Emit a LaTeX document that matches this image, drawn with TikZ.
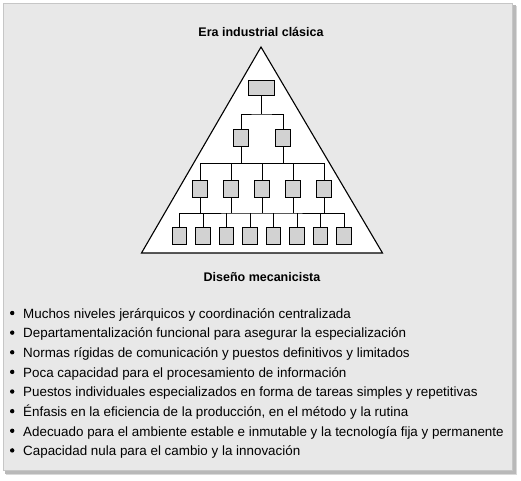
\documentclass[tikz,border=0pt]{standalone}
\usepackage{fontspec}
\setmainfont{Liberation Sans}

\begin{document}
\begin{tikzpicture}[x=1pt,y=1pt]
    \tikzstyle{every node}+=[inner sep=0pt]
    \tikzstyle{box}=[draw=black, fill=gray!35, line width=0.9pt, minimum width=14.5pt, minimum height=17.5pt]
    \tikzstyle{link}=[line width=0.9pt]
    \tikzstyle{heading}=[font=\fontsize{12.5}{15}\selectfont\bfseries]
    \tikzstyle{itemtext}=[anchor=base west, font=\fontsize{13.4}{16}\selectfont]
    \useasboundingbox (0,0) rectangle (521,-480);
    % frame and its shadow
    \fill [gray!30] (6,-6) rectangle (517,-475);
    \fill [gray!55] (5,-5) rectangle (515.5,-473.5);
    \draw [gray!45, fill=gray!18] (3,-3) rectangle (512,-470);
    % headings
    \node [heading] (era) at (261,-31.5) {Era industrial clásica};
    \node [heading] (diseno) at (262,-277) {Diseño mecanicista};
    % pyramid
    \draw [black, line width=1.1pt, fill=white] (261,-47) -- (382.5,-253) -- (141.5,-253) -- cycle;
    \node [box, minimum width=26pt, minimum height=15pt] (top) at (261,-88) {};
    \node [box] (mid1) at (241,-138) {};
    \node [box] (mid2) at (283,-138) {};
    \foreach \i/\x in {1/200,2/231,3/262,4/293,5/324}
        \node [box] (sub\i) at (\x,-189) {};
    \foreach \i in {1,...,8}
        \node [box] (unit\i) at ({179.5+23.5*(\i-1)},-236) {};
    % connectors
    \coordinate (busA) at (261,-114);
    \coordinate (busB) at (262,-163.5);
    \coordinate (busC) at (261.75,-213);
    \draw [link] (top) -- (busA);
    \draw [link] (mid1) |- (busA) -| (mid2);
    \draw [link] (sub1) |- (busB) -| (sub5);
    \foreach \i in {2,3,4}
        \draw [link] (sub\i) -- (sub\i |- busB);
    \draw [link] (mid1) -- (mid1 |- busB);
    \draw [link] (mid2) -- (mid2 |- busB);
    \draw [link] (unit1) |- (busC) -| (unit8);
    \foreach \i in {2,...,7}
        \draw [link] (unit\i) -- (unit\i |- busC);
    \foreach \i in {1,...,5}
        \draw [link] (sub\i) -- (sub\i |- busC);
    % list
    \foreach \i/\txt in {1/{Muchos niveles jerárquicos y coordinación centralizada},
        2/{Departamentalización funcional para asegurar la especialización},
        3/{Normas rígidas de comunicación y puestos definitivos y limitados},
        4/{Poca capacidad para el procesamiento de información},
        5/{Puestos individuales especializados en forma de tareas simples y repetitivas},
        6/{Énfasis en la eficiencia de la producción, en el método y la rutina},
        7/{Adecuado para el ambiente estable e inmutable y la tecnología fija y permanente},
        8/{Capacidad nula para el cambio y la innovación}} {
        \fill (12.2,{-313-19.63*(\i-1)}) circle (2.2);
        \node [itemtext] (item\i) at (23,{-318.3-19.63*(\i-1)}) {\txt};
    }
\end{tikzpicture}
\end{document}
